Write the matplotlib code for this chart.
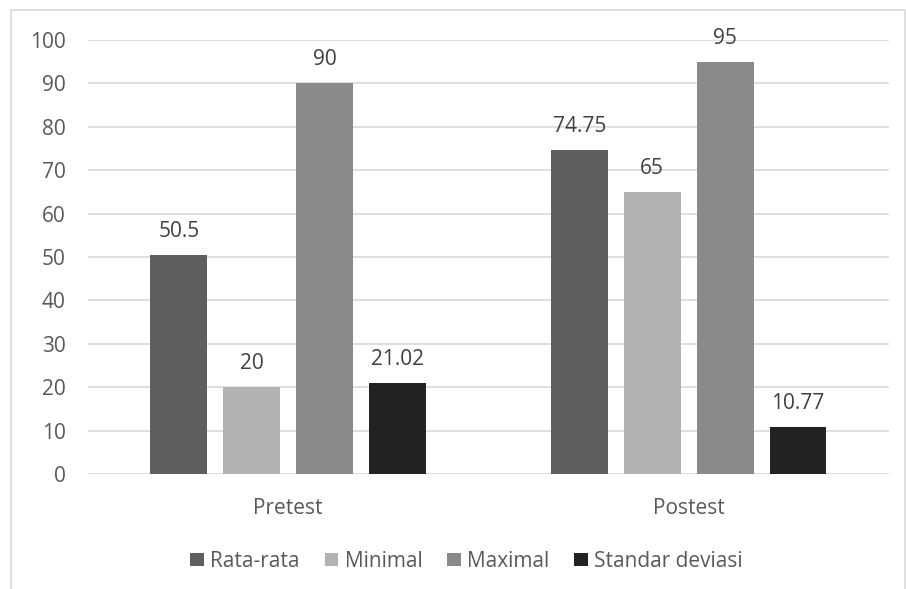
import matplotlib.pyplot as plt
from matplotlib.patches import Rectangle
import numpy as np

plt.rcParams['font.family'] = ['Open Sans', 'DejaVu Sans']

groups = ['Pretest', 'Postest']
series = ['Rata-rata', 'Minimal', 'Maximal', 'Standar deviasi']
values = [
    [50.5, 74.75],   # Rata-rata
    [20, 65],        # Minimal
    [90, 95],        # Maximal
    [21.02, 10.77],  # Standar deviasi
]
labels = [
    ['50.5', '74.75'],
    ['20', '65'],
    ['90', '95'],
    ['21.02', '10.77'],
]
colors = ['#5f5f5f', '#b2b2b2', '#8a8a8a', '#222222']
text_color = '#595959'
fs = 15

fig = plt.figure(figsize=(9.06, 5.89), dpi=100)
ax = fig.add_axes([0.0971, 0.1952, 0.8841, 0.7369])

# outer chart border
fig.patches.append(Rectangle((11 / 906, -0.05), (905 - 11) / 906, 1.05 - 10 / 589,
                             transform=fig.transFigure, fill=False,
                             edgecolor='#d9d9d9', linewidth=1.2))

x = np.arange(len(groups))
step = 0.182
width = 0.142
for i, (name, vals, lab) in enumerate(zip(series, values, labels)):
    pos = x + (i - 1.5) * step
    bars = ax.bar(pos, vals, width, color=colors[i], label=name, zorder=3)
    for b, t in zip(bars, lab):
        ax.annotate(t, (b.get_x() + b.get_width() / 2, b.get_height()),
                    xytext=(0, 13), textcoords='offset points',
                    ha='center', va='baseline', fontsize=fs, color='#404040')

ax.set_xlim(-0.5, 1.5)
ax.set_ylim(0, 100)
ax.set_yticks(range(0, 101, 10))
ax.set_xticks(x)
ax.set_xticklabels(groups)
ax.grid(axis='y', color='#d9d9d9', linewidth=1.2, zorder=0)
for s in ax.spines.values():
    s.set_visible(False)
ax.tick_params(axis='both', length=0, labelsize=fs, labelcolor=text_color)
ax.tick_params(axis='y', pad=16)
ax.tick_params(axis='x', pad=17)

leg = fig.legend(loc='center', bbox_to_anchor=(0.515, 0.047), ncol=4, frameon=False,
                 fontsize=fs, handlelength=0.65, handleheight=0.65,
                 handletextpad=0.3, columnspacing=1.2)
for t in leg.get_texts():
    t.set_color(text_color)

fig.savefig('out.png', dpi=100)
